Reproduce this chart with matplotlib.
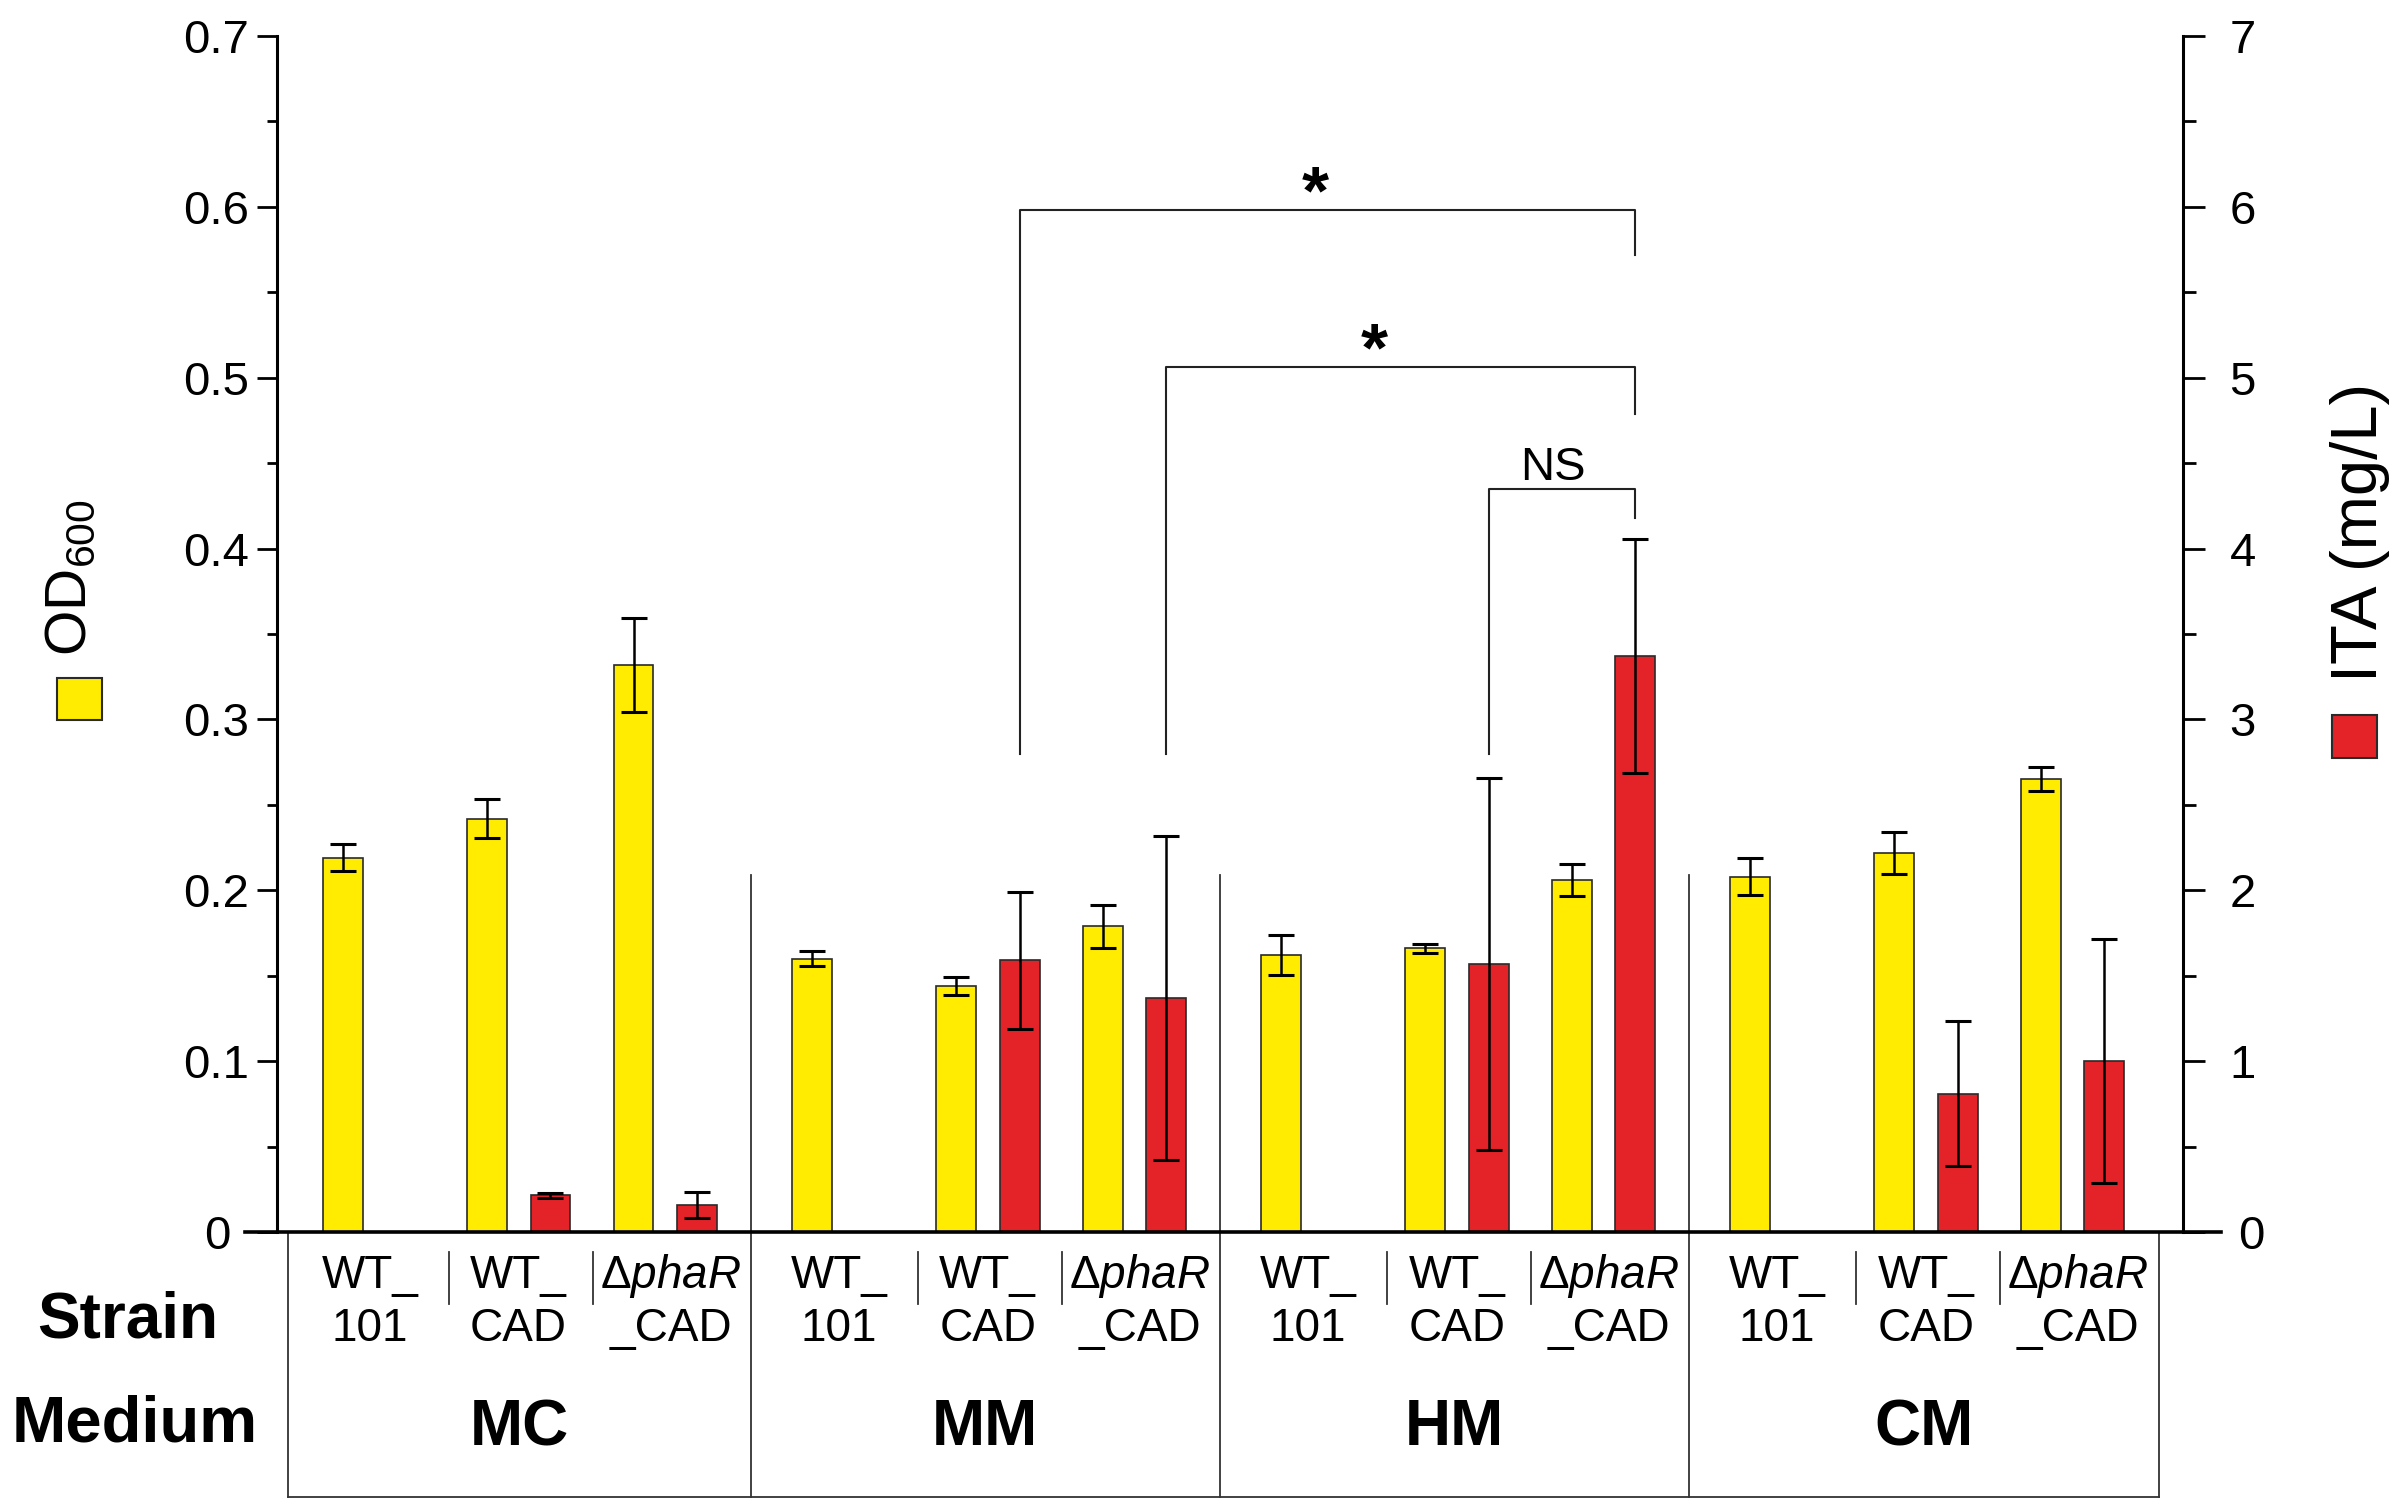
## IMPORTS
import numpy as np
import matplotlib
matplotlib.use("Agg")
import matplotlib.pyplot as plt
from matplotlib.patches import Rectangle
from matplotlib.transforms import blended_transform_factory

plt.rcParams["font.family"] = ["Liberation Sans", "DejaVu Sans"]
plt.rcParams["mathtext.fontset"] = "custom"
plt.rcParams["mathtext.rm"] = "Liberation Sans"
plt.rcParams["mathtext.it"] = "Liberation Sans:italic"

## DATA
media = ["MC", "MM", "HM", "CM"]
strain_top = ["WT_", "WT_", "Δ$\\mathit{phaR}$"]
strain_bottom = ["101", "CAD", "_CAD"]

# OD600, per medium: WT_101, WT_CAD, dphaR_CAD
od_mean = [[0.219, 0.242, 0.332],
           [0.160, 0.144, 0.179],
           [0.162, 0.166, 0.206],
           [0.208, 0.222, 0.265]]
od_err = [[0.008, 0.0115, 0.0275],
          [0.0045, 0.005, 0.0125],
          [0.0118, 0.0025, 0.0093],
          [0.011, 0.0123, 0.007]]

# ITA (mg/L), per medium: WT_CAD, dphaR_CAD
ita_mean = [[0.214, 0.159],
            [1.59, 1.37],
            [1.57, 3.37],
            [0.81, 1.00]]
ita_err = [[0.013, 0.077],
           [0.40, 0.95],
           [1.09, 0.685],
           [0.425, 0.715]]

od_ticks = [0, 0.1, 0.2, 0.3, 0.4, 0.5, 0.6, 0.7]
od_ticklabels = ["0", "0.1", "0.2", "0.3", "0.4", "0.5", "0.6", "0.7"]
ita_ticks = [0, 1, 2, 3, 4, 5, 6, 7]

## STYLE / LAYOUT
YELLOW = "#FFEC00"
RED = "#E42329"
EDGE = "#2a2a2a"
W, H = 2400, 1504

def fx(px):
    return px / W

def fy(px):
    return 1 - px / H

yellow_off = [0.0, 0.307, 0.620]   # bar offsets inside a medium group
red_off = [0.443, 0.755]
label_off = [0.058, 0.375, 0.699]
subdiv_off = [0.226, 0.533]
bar_w = 0.085
table_left, table_right = -0.116, 3.872
div_off = -0.130

fig = plt.figure(figsize=(W / 100, H / 100), dpi=100)
ax = fig.add_axes([fx(277), fy(1232), fx(2183) - fx(277), fy(36) - fy(1232)])
ax2 = ax.twinx()

groups = np.arange(len(media))

## BARS
for i in range(3):
    ax.bar(groups + yellow_off[i], [m[i] for m in od_mean], bar_w,
           color=YELLOW, edgecolor=EDGE, linewidth=1.2, zorder=2)
    ax.errorbar(groups + yellow_off[i], [m[i] for m in od_mean], yerr=[e[i] for e in od_err],
                fmt="none", ecolor="black", elinewidth=1.8, capsize=9.5, capthick=2.2, zorder=3)
for i in range(2):
    ax2.bar(groups + red_off[i], [m[i] for m in ita_mean], bar_w,
            color=RED, edgecolor=EDGE, linewidth=1.2, zorder=2)
    ax2.errorbar(groups + red_off[i], [m[i] for m in ita_mean], yerr=[e[i] for e in ita_err],
                 fmt="none", ecolor="black", elinewidth=1.8, capsize=9.5, capthick=2.2, zorder=3)

## AXES
ax.set_xlim(-0.140, 3.923)
ax.set_ylim(0, 0.7)
ax2.set_ylim(0, 7)
ax.set_xticks([])
ax.set_yticks(od_ticks)
ax.set_yticklabels(od_ticklabels)
ax.set_yticks(np.arange(0.05, 0.7, 0.1), minor=True)
ax2.set_yticks(ita_ticks)
ax2.set_yticklabels([str(t) for t in ita_ticks])
ax2.set_yticks(np.arange(0.5, 7, 1), minor=True)

for a in (ax, ax2):
    for s in ("top", "bottom"):
        a.spines[s].set_visible(False)
ax.spines["right"].set_visible(False)
ax2.spines["left"].set_visible(False)
ax.spines["left"].set_linewidth(2.2)
ax2.spines["right"].set_linewidth(2.2)

ax.tick_params(axis="y", which="major", length=14.4, width=2, labelsize=34, pad=6)
ax.tick_params(axis="y", which="minor", length=7, width=2)
ax2.tick_params(axis="y", which="major", length=15.5, width=2, labelsize=34, pad=18)
ax2.tick_params(axis="y", which="minor", length=9, width=2)

# "0" labels sit further out because the baseline runs past the axes
ax.yaxis.get_major_ticks()
ax2.yaxis.get_major_ticks()
ax.yaxis.get_major_ticks()[0].set_pad(19)
ax2.yaxis.get_major_ticks()[0].set_pad(24)

# baseline crossing both axes
fig.add_artist(plt.Line2D([fx(245), fx(2221)], [fy(1232), fy(1232)],
                          color="black", linewidth=2.6, transform=fig.transFigure))

## TABLE BELOW
tr = blended_transform_factory(ax.transData, fig.transFigure)
line_kw = dict(color="#333333", linewidth=1.3, clip_on=False)
dividers = [k + div_off for k in range(1, len(media))]
ax.plot([table_left, table_right], [fy(1497), fy(1497)], transform=tr, **line_kw)
ax.plot([table_left, table_left], [fy(1232), fy(1497)], transform=tr, **line_kw)
ax.plot([table_right, table_right], [fy(1232), fy(1497)], transform=tr, **line_kw)
for d in dividers:
    ax.plot([d, d], [0, 0.209], **line_kw)
    ax.plot([d, d], [fy(1232), fy(1497)], transform=tr, **line_kw)

cells = [table_left] + dividers + [table_right]
for k, name in enumerate(media):
    for j in range(3):
        x = k + label_off[j]
        ax.text(x, fy(1288), strain_top[j], transform=tr, ha="center", va="baseline", fontsize=33)
        ax.text(x, fy(1341), strain_bottom[j], transform=tr, ha="center", va="baseline", fontsize=33)
    for s in subdiv_off:
        ax.plot([k + s, k + s], [fy(1252), fy(1304)], transform=tr, **line_kw)
    ax.text((cells[k] + cells[k + 1]) / 2, fy(1445), name, transform=tr,
            ha="center", va="baseline", fontsize=46, fontweight="bold")

fig.text(fx(128), fy(1338), "Strain", ha="center", va="baseline", fontsize=46, fontweight="bold")
fig.text(fx(135), fy(1442), "Medium", ha="center", va="baseline", fontsize=47, fontweight="bold")

## SIGNIFICANCE BRACKETS
def bracket(x1, x2, top, b1, b2, label, size, dx=0.0, dy=0.005, weight="normal"):
    ax.plot([x1, x1, x2, x2], [b1, top, top, b2], color="#222222", linewidth=1.5, clip_on=False)
    ax.text((x1 + x2) / 2 + dx, top + dy, label, ha="center", va="baseline",
            fontsize=size, fontweight=weight)

bracket(1 + red_off[0], 2 + red_off[1], 0.598, 0.28, 0.572, "*", 50, -0.026, -0.002, "bold")
bracket(1 + red_off[1], 2 + red_off[1], 0.506, 0.28, 0.479, "*", 50, -0.055, -0.002, "bold")
bracket(2 + red_off[0], 2 + red_off[1], 0.435, 0.28, 0.418, "NS", 34, -0.02)

## AXIS LABELS WITH COLOUR KEYS
fig.text(fx(86), fy(656), "OD$_{600}$", rotation=90, rotation_mode="anchor",
         ha="left", va="baseline", fontsize=42)
fig.add_artist(Rectangle((fx(57), fy(720)), fx(45), 42 / H, transform=fig.transFigure,
                         facecolor=YELLOW, edgecolor=EDGE, linewidth=1.5))
fig.text(fx(2377), fy(682), "ITA (mg/L)", rotation=90, rotation_mode="anchor",
         ha="left", va="baseline", fontsize=47)
fig.add_artist(Rectangle((fx(2332), fy(758)), fx(45), 43 / H, transform=fig.transFigure,
                         facecolor=RED, edgecolor=EDGE, linewidth=1.5))

fig.savefig("out.png", dpi=100)
